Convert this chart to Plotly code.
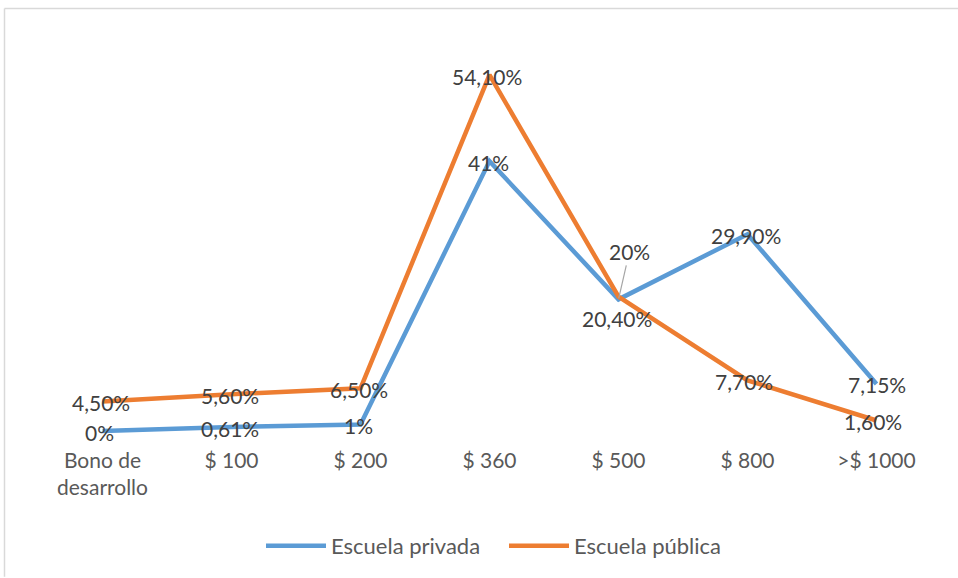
import plotly.graph_objects as go

categories = ["Bono de<br>desarrollo", "$ 100", "$ 200", "$ 360", "$ 500", "$ 800", ">$ 1000"]
privada = [0, 0.61, 1, 41, 20, 29.9, 7.15]
publica = [4.5, 5.6, 6.5, 54.1, 20.4, 7.7, 1.6]
privada_labels = ["0%", "0,61%", "1%", "41%", "20%", "29,90%", "7,15%"]
publica_labels = ["4,50%", "5,60%", "6,50%", "54,10%", "20,40%", "7,70%", "1,60%"]

BLUE = "#5B9BD5"
ORANGE = "#ED7D31"
FONT = "Lato"
LABEL_COLOR = "#404040"
FS = 21

xs = list(range(len(categories)))

fig = go.Figure()
fig.add_trace(go.Scatter(x=xs, y=privada, mode="lines", name="Escuela privada",
                         line=dict(color=BLUE, width=4.5), hoverinfo="skip"))
fig.add_trace(go.Scatter(x=xs, y=publica, mode="lines", name="Escuela pública",
                         line=dict(color=ORANGE, width=4.5), hoverinfo="skip"))

# label offsets (pixels)
priv_shift = [(-3, -1), (-2, -1), (-2, -1), (-1, -1), None, (-2, -1), (0, -1)]
pub_shift = [(-2, -1), (-2, -1), (-2, -1), (-3, -2), (-2, -22), (-4, -1), (-4, -1)]

annotations = []
for i, (v, t) in enumerate(zip(privada, privada_labels)):
    s = priv_shift[i]
    if s is None:
        annotations.append(dict(x=xs[i], y=v, text=t, showarrow=True, arrowhead=0,
                                arrowcolor="#A6A6A6", arrowwidth=1.2, ax=11, ay=-48,
                                standoff=1, font=dict(family=FONT, size=FS, color=LABEL_COLOR)))
    else:
        annotations.append(dict(x=xs[i], y=v, text=t, showarrow=False, xshift=s[0], yshift=s[1],
                                font=dict(family=FONT, size=FS, color=LABEL_COLOR)))
for i, (v, t) in enumerate(zip(publica, publica_labels)):
    s = pub_shift[i]
    annotations.append(dict(x=xs[i], y=v, text=t, showarrow=False, xshift=s[0], yshift=s[1],
                            font=dict(family=FONT, size=FS, color=LABEL_COLOR)))

L, R, T, B = 38, 17, 36, 131
W, H = 958, 578
pw, ph = W - L - R, H - T - B

def px(xp):
    return (xp - L) / pw

def py(yp):
    return (H - B - yp) / ph

shapes = [
    dict(type="line", xref="paper", yref="paper", x0=px(4.5), x1=px(958), y0=py(8.5), y1=py(8.5),
         line=dict(color="#D9D9D9", width=1.5)),
    dict(type="line", xref="paper", yref="paper", x0=px(4.5), x1=px(4.5), y0=py(8.5), y1=py(578),
         line=dict(color="#D9D9D9", width=1.5)),
]

fig.update_layout(
    width=W, height=H,
    margin=dict(l=L, r=R, t=T, b=B),
    paper_bgcolor="white", plot_bgcolor="white",
    font=dict(family=FONT, size=FS, color="#595959"),
    xaxis=dict(tickmode="array", tickvals=xs, ticktext=categories, range=[-0.5, 6.5],
               showgrid=False, zeroline=False, showline=False, ticks="",
               tickfont=dict(family=FONT, size=FS, color="#595959"), fixedrange=True),
    yaxis=dict(range=[-2.27, 60], visible=False, fixedrange=True),
    legend=dict(orientation="h", x=px(261), xanchor="left", y=py(546), yanchor="middle",
                font=dict(family=FONT, size=22, color="#595959"), itemwidth=60,
                entrywidth=168, entrywidthmode="pixels",
                bgcolor="rgba(0,0,0,0)"),
    annotations=annotations,
    shapes=shapes,
    showlegend=True,
)

fig.write_html("out.html")
